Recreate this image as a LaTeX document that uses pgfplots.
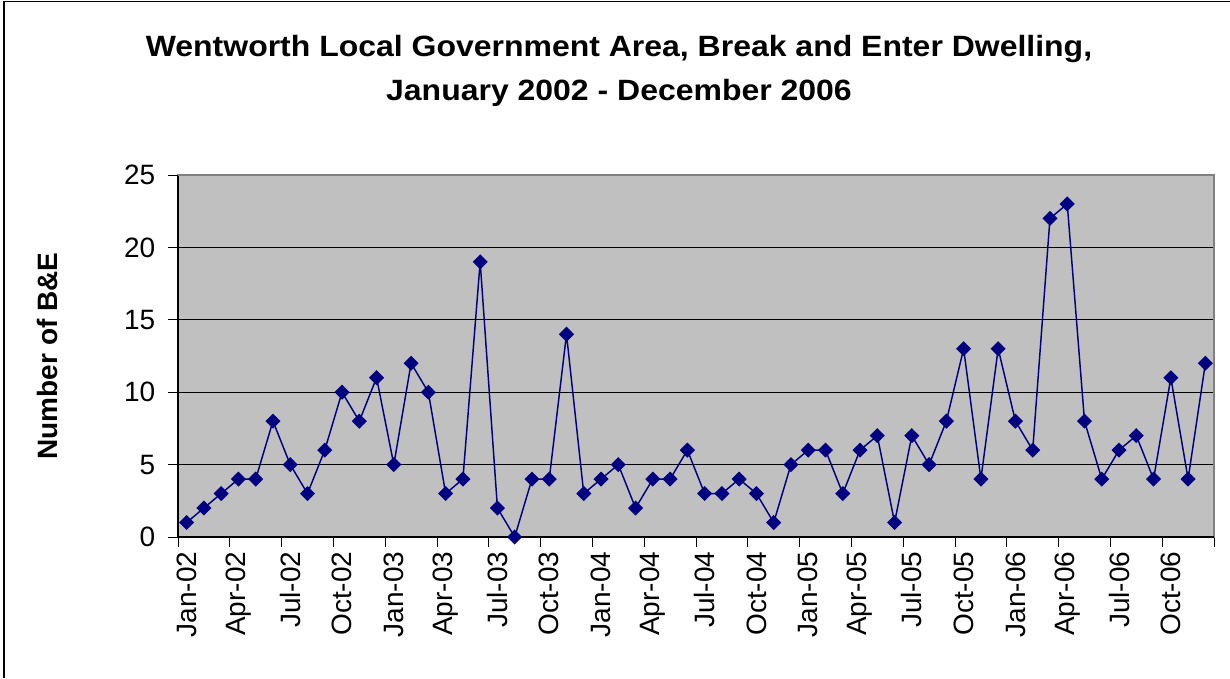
\documentclass[border=0pt]{standalone}
\usepackage{pgfplots}
\pgfplotsset{compat=1.18}
\usepackage{fontspec}
\setmainfont{Liberation Sans}
\newfontfamily\titlefont{Liberation Sans}[FakeStretch=1.09]
\definecolor{navy}{HTML}{000080}
\definecolor{plotgray}{HTML}{C0C0C0}
\begin{document}
\begin{tikzpicture}
\path[use as bounding box] (0,0) rectangle (922.5pt,508.5pt);
\draw[black, line width=0.9pt] (3pt,0) -- (3pt,507.4pt) -- (922.5pt,507.4pt);
\begin{axis}[
  at={(133.5pt,105.75pt)}, anchor=south west,
  width=777pt, height=271.5pt, scale only axis,
  xmin=-0.5, xmax=59.5, ymin=0, ymax=25,
  axis background/.style={fill=plotgray},
  axis line style={draw=gray, line width=0.8pt},
  tick pos=left,
  ytick={0,5,...,25},
  ymajorgrids, major grid style={black, line width=0.6pt},
  xtick={-0.5,2.5,...,59.5}, xticklabels={},
  extra x ticks={0,3,...,57},
  extra x tick labels={Jan-02,Apr-02,Jul-02,Oct-02,Jan-03,Apr-03,Jul-03,Oct-03,Jan-04,Apr-04,Jul-04,Oct-04,Jan-05,Apr-05,Jul-05,Oct-05,Jan-06,Apr-06,Jul-06,Oct-06},
  extra x tick style={tick style={draw=none}},
  xticklabel style={rotate=90, anchor=east},
  yticklabel style={xshift=-6pt},
  tick align=outside, major tick length=7.5pt,
  tick style={black, line width=0.6pt},
  ticklabel style={font=\fontsize{21}{21}\selectfont},
  /pgf/number format/assume math mode=true,
  ylabel={Number of B\&E},
  ylabel style={font=\bfseries\fontsize{21}{21}\selectfont, at={(axis description cs:-0.1255,0.5)}, anchor=center},
  clip=false,
]
\draw[black, line width=0.8pt] (rel axis cs:0,1) -- (rel axis cs:0,0) -- (rel axis cs:1,0);
\draw[gray, line width=0.8pt] (rel axis cs:0,1) -- (rel axis cs:1,1);
\addplot[navy, line width=1.1pt, mark=square*, mark size=3.45pt, mark options={rotate=45, solid, fill=navy, draw=navy}] coordinates {
(0,1) (1,2) (2,3) (3,4) (4,4) (5,8) (6,5) (7,3) (8,6) (9,10)
(10,8) (11,11) (12,5) (13,12) (14,10) (15,3) (16,4) (17,19) (18,2) (19,0)
(20,4) (21,4) (22,14) (23,3) (24,4) (25,5) (26,2) (27,4) (28,4) (29,6)
(30,3) (31,3) (32,4) (33,3) (34,1) (35,5) (36,6) (37,6) (38,3) (39,6)
(40,7) (41,1) (42,7) (43,5) (44,8) (45,13) (46,4) (47,13) (48,8) (49,6)
(50,22) (51,23) (52,8) (53,4) (54,6) (55,7) (56,4) (57,11) (58,4) (59,12)
};
\end{axis}
\node[font=\titlefont\bfseries\fontsize{22}{22}\selectfont, anchor=base] at (464.25pt,465.75pt) {Wentworth Local Government Area, Break and Enter Dwelling,};
\node[font=\titlefont\bfseries\fontsize{22}{22}\selectfont, anchor=base] at (464.25pt,432.75pt) {January 2002 - December 2006};
\end{tikzpicture}
\end{document}
